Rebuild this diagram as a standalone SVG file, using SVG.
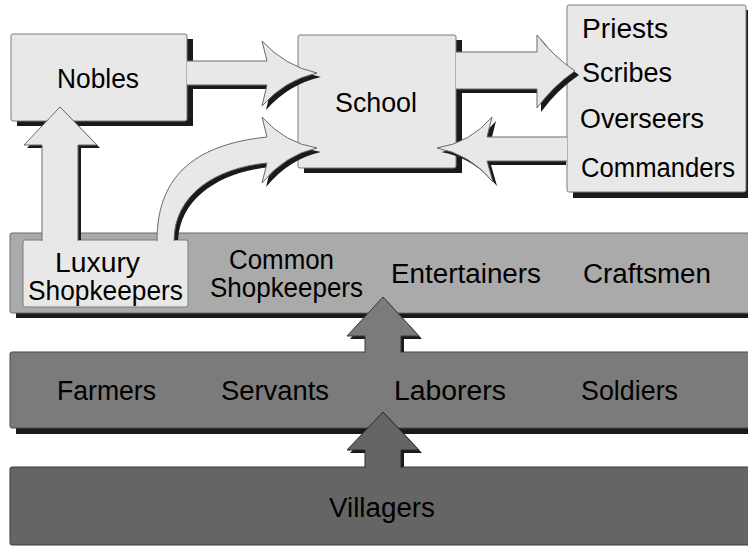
<svg xmlns="http://www.w3.org/2000/svg" width="748" height="546" viewBox="0 0 748 546">
<style>
.sh{fill:#1a1a1a;stroke:none}
.lt{fill:#e8e8e8;stroke:#7a7a7a;stroke-width:1}
.b2{fill:#aaaaaa;stroke:#6a6a6a;stroke-width:1}
.b3{fill:#7b7b7b;stroke:#4a4a4a;stroke-width:1}
.b4{fill:#656565;stroke:#3a3a3a;stroke-width:1}
.ar{fill:#e8e8e8;stroke:#6a6a6a;stroke-width:1;stroke-linejoin:miter}
.t{font-family:"Liberation Sans","DejaVu Sans",sans-serif;font-size:27px;fill:#000}
</style>
<defs>
<clipPath id="above"><rect x="0" y="0" width="748" height="240"/></clipPath>
</defs>
<rect width="748" height="546" fill="#ffffff"/>

<g id="level2">
<rect class="sh" x="16" y="238" width="740" height="80"/>
<rect class="b2" x="10" y="233" width="745" height="80" rx="2"/>
<text class="t" x="229" y="269" textLength="105" lengthAdjust="spacingAndGlyphs">Common</text>
<text class="t" x="210" y="297" textLength="153" lengthAdjust="spacingAndGlyphs">Shopkeepers</text>
<text class="t" x="391" y="283" textLength="150" lengthAdjust="spacingAndGlyphs">Entertainers</text>
<text class="t" x="583" y="283" textLength="128" lengthAdjust="spacingAndGlyphs">Craftsmen</text>
</g>
<g id="level3">
<rect class="sh" x="16" y="357" width="740" height="77"/>
<rect class="b3" x="10" y="352" width="745" height="76" rx="2"/>
<text class="t" x="57" y="400" textLength="99" lengthAdjust="spacingAndGlyphs">Farmers</text>
<text class="t" x="221" y="400" textLength="108" lengthAdjust="spacingAndGlyphs">Servants</text>
<text class="t" x="394" y="400" textLength="112" lengthAdjust="spacingAndGlyphs">Laborers</text>
<text class="t" x="581" y="400" textLength="97" lengthAdjust="spacingAndGlyphs">Soldiers</text>
</g>
<g id="villagers">
<rect class="b4" x="10" y="467" width="745" height="78" rx="2"/>
<text class="t" x="329" y="517" textLength="106" lengthAdjust="spacingAndGlyphs">Villagers</text>
</g>

<g id="luxury">
<rect class="lt" x="23" y="240" width="165" height="67" rx="2"/>
<text class="t" x="55" y="272" textLength="85" lengthAdjust="spacingAndGlyphs">Luxury</text>
<text class="t" x="28" y="300" textLength="155" lengthAdjust="spacingAndGlyphs">Shopkeepers</text>
</g>

<g id="nobles">
<rect class="sh" x="17" y="39" width="176" height="87"/>
<rect class="lt" x="11" y="34" width="176" height="87" rx="2"/>
<text class="t" x="57" y="88" textLength="82" lengthAdjust="spacingAndGlyphs">Nobles</text>
</g>
<g id="school">
<rect class="sh" x="304" y="40" width="158" height="133"/>
<rect class="lt" x="298" y="35" width="158" height="133" rx="2"/>
<text class="t" x="335" y="112" textLength="82" lengthAdjust="spacingAndGlyphs">School</text>
</g>

<g id="connectors-shadow">
<path class="sh" transform="translate(4,4)" d="M562,137 L487,137 L492,117 Q470,143 437,148 Q470,154 493,182 L487,161 L562,161 Z"/>
</g>

<g id="officials">
<rect class="sh" x="573" y="10" width="180" height="188"/>
<rect class="lt" x="567" y="5" width="179" height="187" rx="2"/>
<text class="t" x="582" y="38" textLength="86" lengthAdjust="spacingAndGlyphs">Priests</text>
<text class="t" x="582" y="82" textLength="90" lengthAdjust="spacingAndGlyphs">Scribes</text>
<text class="t" x="580" y="128" textLength="124" lengthAdjust="spacingAndGlyphs">Overseers</text>
<text class="t" x="581" y="177" textLength="154" lengthAdjust="spacingAndGlyphs">Commanders</text>
</g>

<g id="connectors">
<g clip-path="url(#above)">
<path class="sh" transform="translate(3,3)" d="M42,240 L42,145 L24,145 L60,107 L97,145 L78,145 L78,240 Z"/>
<path class="sh" transform="translate(4,4)" d="M157,240 C157,180 190,145 267,137 L262,117 Q285,143 317,148 Q285,155 262,183 L267,163 C215,168 174,195 174,240 Z"/>
</g>
<path class="sh" transform="translate(4,4)" d="M187,61 L267,61 L262,41 Q285,66 317,73 Q285,80 262,106 L267,85 L187,85 Z"/>
<path class="sh" transform="translate(4,4)" d="M456,52 L537,52 L537,35 Q553,56 575,71 Q553,86 537,108 L537,89 L456,89 Z"/>
<path class="sh" transform="translate(3,3)" d="M365,349 L365,336 L347,336 L383,297 L419,336 L401,336 L401,349 Z"/>
<path class="sh" transform="translate(3,3)" d="M365,464 L365,450 L347,450 L383,412 L419,450 L401,450 L401,464 Z"/>

<path class="ar" d="M42,241 L42,145 L24,145 L60,107 L97,145 L78,145 L78,241"/>
<path class="ar" d="M157,241 C157,180 190,145 267,137 L262,117 Q285,143 317,148 Q285,155 262,183 L267,163 C215,168 174,195 174,241"/>
<rect x="43" y="238" width="34" height="5" fill="#e8e8e8"/>
<rect x="158" y="238" width="15" height="5" fill="#e8e8e8"/>
<path class="ar" d="M187,61 L267,61 L262,41 Q285,66 317,73 Q285,80 262,106 L267,85 L187,85"/>
<path class="ar" d="M456,52 L537,52 L537,35 Q553,56 575,71 Q553,86 537,108 L537,89 L456,89"/>
<path class="ar" d="M567,137 L487,137 L492,117 Q470,143 437,148 Q470,154 493,182 L487,161 L567,161"/>
<path d="M365,353 L365,336 L347,336 L383,297 L419,336 L401,336 L401,353" fill="#7b7b7b" stroke="#3a3a3a" stroke-width="1"/>
<path d="M365,468 L365,450 L347,450 L383,412 L419,450 L401,450 L401,468" fill="#656565" stroke="#2a2a2a" stroke-width="1"/>
</g>
</svg>
